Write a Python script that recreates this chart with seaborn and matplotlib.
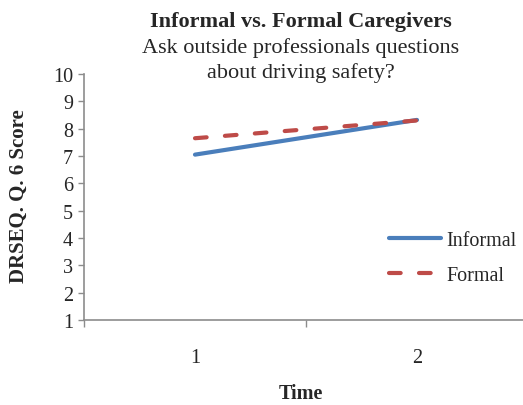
import matplotlib
matplotlib.use("Agg")
import matplotlib.pyplot as plt
import seaborn as sns
import pandas as pd
from matplotlib.lines import Line2D

times = [1, 2]
informal = [7.05, 8.32]
formal = [7.65, 8.30]
series_names = ["Informal", "Formal"]
y_ticks = list(range(1, 11))

df = pd.DataFrame({
    "Time": times * 2,
    "Score": informal + formal,
    "Group": [series_names[0]] * len(times) + [series_names[1]] * len(times),
})

sns.set_theme(style="white")
plt.rcParams["font.family"] = ["Liberation Serif", "DejaVu Serif"]

blue = "#4A7EBB"
red = "#BE4B48"
axis_gray = "#8C8C8C"
dash_pattern = (2.8, 4.4)

fig = plt.figure(figsize=(5.23, 4.06), dpi=100)
ax = fig.add_axes([84 / 523, 1 - 321 / 406, 444 / 523, (321 - 75) / 406])

sns.lineplot(data=df, x="Time", y="Score", hue="Group", style="Group",
             palette={"Informal": blue, "Formal": red},
             dashes={"Informal": "", "Formal": dash_pattern},
             linewidth=3, legend=False, ax=ax)
for ln in ax.lines:
    ln.set_solid_capstyle("round")
    ln.set_dash_capstyle("round")

ax.set_xlim(0.5, 2.5)
ax.set_ylim(1, 10)
ax.set_yticks(y_ticks)
ax.set_yticklabels([str(v) for v in y_ticks], fontsize=14.5)
ax.set_xticks(times)
ax.set_xticklabels([str(t) for t in times], fontsize=14.5)
ax.tick_params(axis="x", length=0, pad=20)
ax.tick_params(axis="y", length=4, width=1, color=axis_gray, direction="out", left=True, pad=4)
# category boundary ticks on the x axis
for b in [0.5, 1.5, 2.5]:
    ax.plot([b], [1], marker=3, markersize=5, color=axis_gray,
            clip_on=False, markeredgewidth=1)

for side in ["top", "right"]:
    ax.spines[side].set_visible(False)
for side in ["left", "bottom"]:
    ax.spines[side].set_color(axis_gray)
    ax.spines[side].set_linewidth(1.2)

ax.set_xlabel("")
ax.set_ylabel("")

fig.text(301 / 523, 1 - 22 / 406, "Informal vs. Formal Caregivers",
         ha="center", va="center", fontsize=16, fontweight="bold")
fig.text(301 / 523, 1 - 48 / 406, "Ask outside professionals questions",
         ha="center", va="center", fontsize=16)
fig.text(301 / 523, 1 - 73 / 406, "about driving safety?",
         ha="center", va="center", fontsize=16)
fig.text(301 / 523, 1 - 394 / 406, "Time", ha="center", va="center",
         fontsize=14.5, fontweight="bold")
fig.text(19 / 523, 1 - 196 / 406, "DRSEQ. Q. 6 Score", ha="center", va="center",
         rotation=90, fontsize=15, fontweight="bold")

handles = [Line2D([], [], color=blue, lw=3, solid_capstyle="round"),
           Line2D([], [], color=red, lw=3, dashes=dash_pattern, dash_capstyle="round")]
fig.legend(handles, series_names, loc="center left",
           bbox_to_anchor=(371 / 523, 1 - 259 / 406), frameon=False,
           fontsize=14.5, handlelength=2.6, handletextpad=0.25, labelspacing=0.8)

fig.savefig("out.png", dpi=100)
